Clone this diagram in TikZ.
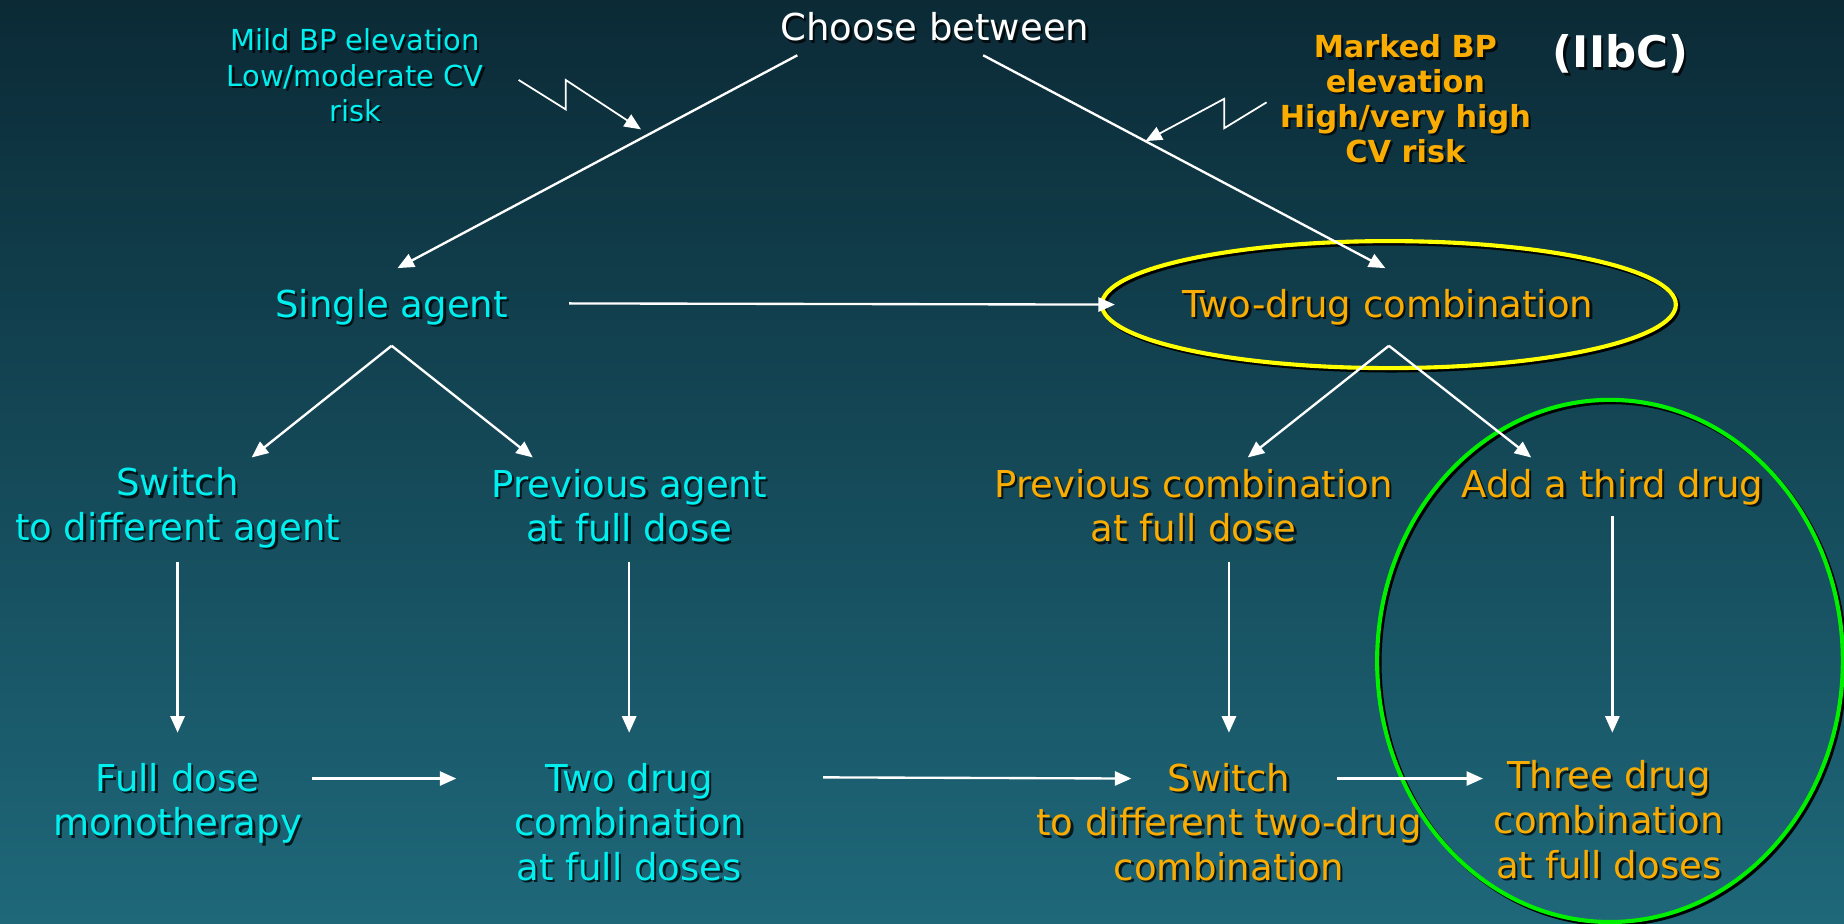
\documentclass[tikz,border=0pt]{standalone}
\usepackage{fontspec}
\setmainfont{DejaVu Sans}
\usetikzlibrary{arrows.meta,calc}

\definecolor{bgtop}{RGB}{11,42,54}
\definecolor{bgbot}{RGB}{30,104,122}
\definecolor{aqua}{RGB}{0,240,240}
\definecolor{amber}{RGB}{250,172,0}
\definecolor{hilite}{RGB}{255,255,0}
\definecolor{ringgreen}{RGB}{0,240,0}

\tikzset{
  lbl/.style={align=center, inner sep=0pt, font=\fontsize{31.5}{38}\selectfont},
  small/.style={align=center, inner sep=0pt, font=\fontsize{24.6}{30}\selectfont},
  boldsmall/.style={align=center, inner sep=0pt, font=\fontsize{25.8}{29.7}\selectfont\bfseries},
  classlbl/.style={inner sep=0pt, font=\fontsize{37}{40}\selectfont\bfseries},
  arr/.style={draw=white, line width=2pt, -{Triangle[length=14pt,width=12pt]}},
  zig/.style={draw=white, line width=1.5pt, -{Triangle[length=14pt,width=12pt]}},
}

% name, position, style, colour, text (with a dark drop shadow)
\newcommand{\shlabel}[5]{%
  \node[#3, text=black, opacity=0.75] at ($(#2)+(2,2)$) {#5};
  \node[#3, text=#4] (#1) at (#2) {#5};
}

\begin{document}
\begin{tikzpicture}[x=1pt,y=1pt,yscale=-1,xscale=1]

    \useasboundingbox (0,0) rectangle (1568,785);
    \shade[top color=bgtop, bottom color=bgbot] (0,0) rectangle (1568,785);

    \shlabel{choose}{795,23}{lbl}{white}{Choose between}
    \shlabel{mild}{302,64}{small}{aqua}{Mild BP elevation\\Low/moderate CV\\risk}
    \shlabel{marked}{1195,84}{boldsmall}{amber}{Marked BP\\elevation\\High/very high\\CV risk}
    \shlabel{class}{1378,46}{classlbl}{white}{(IIbC)}

    \shlabel{single}{333,261}{lbl}{aqua}{Single agent}
    \shlabel{twodrug}{1180,261}{lbl}{amber}{Two-drug combination}

    \shlabel{sw}{151,432}{lbl}{aqua}{Switch\\to different agent}
    \shlabel{prevA}{535,430}{lbl}{aqua}{Previous agent\\at full dose}
    \shlabel{prevC}{1015,430}{lbl}{amber}{Previous combination\\at full dose}
    \shlabel{third}{1371,414}{lbl}{amber}{Add a third drug}

    \shlabel{fd}{151,683}{lbl}{aqua}{Full dose\\monotherapy}
    \shlabel{twofull}{535,699}{lbl}{aqua}{Two drug\\combination\\at full doses}
    \shlabel{swc}{1045,699}{lbl}{amber}{Switch\\to different two-drug\\combination}
    \shlabel{three}{1368,697}{lbl}{amber}{Three drug\\combination\\at full doses}

    % highlight rings
    \draw[black, line width=3.5pt] ($(twodrug)+(3,0)$) ellipse [x radius=244, y radius=54];
    \draw[hilite, line width=3.5pt] ($(twodrug)+(1,-2)$) ellipse [x radius=244, y radius=54];
    \draw[black, line width=3.5pt] (1371,564) ellipse [x radius=198, y radius=222];
    \draw[ringgreen, line width=3.5pt] (1369,562) ellipse [x radius=198, y radius=222];

    \draw[arr] ($(choose)+(-117,24)$) -- ($(single)+(5,-33)$);
    \draw[arr] ($(choose)+(41,24)$) -- ($(twodrug)+(-2,-33)$);
    \draw[zig] ($(mild)+(139,4)$) -- ++(40,25) -- ++(0,-25) -- ++(64,42);
    \draw[zig] ($(marked)+(-118,3)$) -- ++(-36,22) -- ++(0,-25) -- ++(-67,36);

    \draw[arr] ($(single)+(151,-3)$) -- ($(twodrug)+(-232,-2)$);
    \draw[arr] ($(single)+(0,33)$) -- ($(sw)+(63,-43)$);
    \draw[arr] ($(single)+(0,33)$) -- ($(prevA)+(-82,-41)$);
    \draw[arr] ($(twodrug)+(1,33)$) -- ($(prevC)+(46,-41)$);
    \draw[arr] ($(twodrug)+(1,33)$) -- ($(third)+(-69,-25)$);

    \draw[arr] ($(sw)+(0,46)$) -- ($(fd)+(0,-60)$);
    \draw[arr] ($(prevA)+(0,48)$) -- ($(twofull)+(0,-76)$);
    \draw[arr] ($(prevC)+(30,48)$) -- ($(swc)+(0,-76)$);
    \draw[arr] ($(third)+(0,25)$) -- ($(three)+(3,-74)$);

    \draw[arr] ($(fd)+(114,-21)$) -- ($(twofull)+(-147,-37)$);
    \draw[arr] ($(twofull)+(165,-38)$) -- ($(swc)+(-83,-37)$);
    \draw[arr] ($(swc)+(92,-37)$) -- ($(three)+(-107,-35)$);

\end{tikzpicture}
\end{document}
